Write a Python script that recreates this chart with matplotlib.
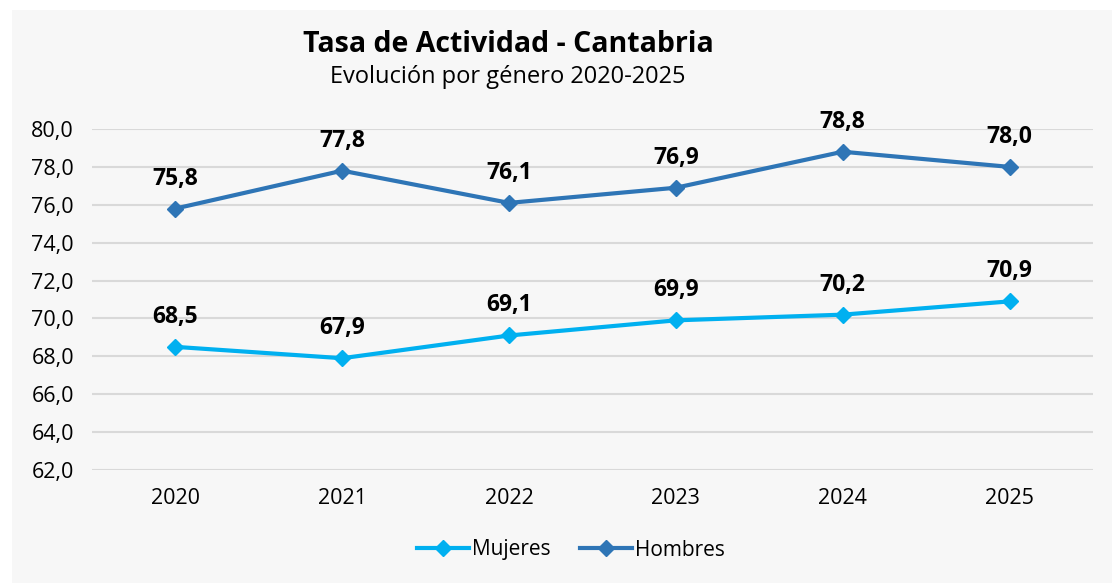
import matplotlib.pyplot as plt
from matplotlib.patches import Rectangle

plt.rcParams['font.family'] = ['Open Sans', 'DejaVu Sans']

# Data
years = ['2020', '2021', '2022', '2023', '2024', '2025']
mujeres = [68.5, 67.9, 69.1, 69.9, 70.2, 70.9]
hombres = [75.8, 77.8, 76.1, 76.9, 78.8, 78.0]
y_ticks = [62, 64, 66, 68, 70, 72, 74, 76, 78, 80]

color_muj = '#00B0F0'
color_hom = '#2E75B6'

fig = plt.figure(figsize=(11.12, 5.83), dpi=100)
fig.patch.set_facecolor('white')
# light gray chart area
fig.patches.append(Rectangle((12 / 1112, 0), 1 - 12 / 1112, 1 - 10 / 583,
                             transform=fig.transFigure, facecolor='#F7F7F7',
                             edgecolor='none', zorder=-10))

ax = fig.add_axes([92 / 1112, 1 - 470 / 583, (1093 - 92) / 1112, (470 - 129) / 583])
ax.set_facecolor('none')

x = range(len(years))
ax.plot(x, mujeres, color=color_muj, lw=3, marker='D', ms=8, label='Mujeres', zorder=3)
ax.plot(x, hombres, color=color_hom, lw=3, marker='D', ms=8, label='Hombres', zorder=3)

for i, v in enumerate(mujeres):
    ax.annotate(f'{v:.1f}'.replace('.', ','), (i, v), xytext=(0, 13), textcoords='offset points',
                ha='center', va='bottom', fontsize=16.5, fontweight='bold', color='black')
for i, v in enumerate(hombres):
    ax.annotate(f'{v:.1f}'.replace('.', ','), (i, v), xytext=(0, 13), textcoords='offset points',
                ha='center', va='bottom', fontsize=16.5, fontweight='bold', color='black')

ax.set_xlim(-0.5, len(years) - 0.5)
ax.set_ylim(62, 80)
ax.set_yticks(y_ticks)
ax.set_yticklabels([f'{t:.1f}'.replace('.', ',') for t in y_ticks], fontsize=15.5)
ax.set_xticks(list(x))
ax.set_xticklabels(years, fontsize=15.5)
ax.tick_params(length=0, pad=13)
ax.tick_params(axis='x', pad=13)
ax.grid(axis='y', color='#D9D9D9', lw=1.5)
ax.set_axisbelow(True)
for s in ax.spines.values():
    s.set_visible(False)

fig.text(508 / 1112, 1 - 45 / 583, 'Tasa de Actividad - Cantabria', ha='center', va='center',
         fontsize=20.5, fontweight='bold')
fig.text(508 / 1112, 1 - 77 / 583, 'Evolución por género 2020-2025', ha='center', va='center',
         fontsize=17)

fig.legend(loc='center', bbox_to_anchor=(571 / 1112, 1 - 550 / 583), ncol=2, frameon=False,
           fontsize=15, handlelength=2.5, handletextpad=0.15, columnspacing=1.4)

fig.savefig('out.png', dpi=100)
